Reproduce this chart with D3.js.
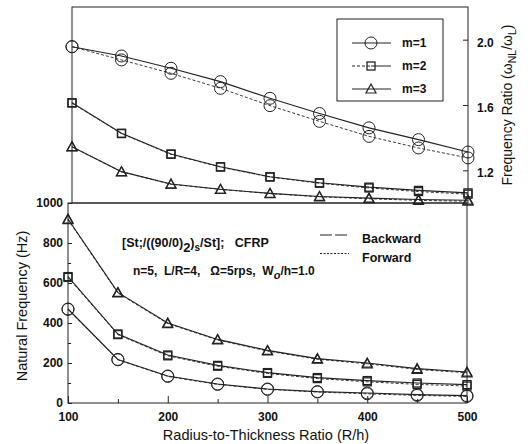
<!DOCTYPE html>
<html><head><meta charset="utf-8">
<script src="https://cdn.jsdelivr.net/npm/d3@7"></script>
<style>
body{margin:0;background:#fff;}
svg{display:block;font-family:"Liberation Sans",Arial,sans-serif;}
text{fill:#111;}
</style></head>
<body><svg id="c" width="528" height="444"></svg>
<script>
// ---- data ----
const ratioRh = [100,150,200,250,300,350,400,450,500];
const xTickLabels = [100,200,300,400,500];
const xMinorTicks = [150,250,350,450];
const hzTicks = [0,200,400,600,800,1000];
const hzMinorTicks = [100,300,500,700,900];
const ratioTicks = [1.2,1.6,2.0];

// frequency ratio (top panel)
const ratioM1Backward = [1.957,1.900,1.825,1.743,1.641,1.548,1.460,1.388,1.312];
const ratioM1Forward  = [1.957,1.876,1.794,1.702,1.596,1.500,1.408,1.337,1.276];
const ratioM2Backward = [1.614,1.427,1.300,1.222,1.161,1.124,1.097,1.077,1.062];
const ratioM2Forward  = [1.612,1.425,1.298,1.220,1.159,1.121,1.092,1.070,1.054];
const ratioM3Backward = [1.345,1.192,1.116,1.084,1.059,1.040,1.030,1.021,1.017];
const ratioM3Forward  = [1.344,1.191,1.115,1.083,1.058,1.038,1.026,1.016,1.011];

// natural frequency, Hz (bottom panel)
const hzM1Backward = [470,218,135,95,70,57,50,42,37];
const hzM1Forward  = [468,216,133,93,68,55,46,38,33];
const hzM2Backward = [632,345,240,188,152,127,112,100,92];
const hzM2Forward  = [628,342,236,184,148,122,106,93,85];
const hzM3Backward = [920,553,400,318,263,222,200,172,155];
const hzM3Forward  = [917,550,397,315,260,219,196,168,151];

const modes = ["m=1","m=2","m=3"];
const directions = ["Backward","Forward"];

// ---- drawing ----
const svg = d3.select("#c");
const xTop = d3.scaleLinear().domain([100,500]).range([72,468]);
const xBot = d3.scaleLinear().domain([100,500]).range([68,467]);
const yTop = d3.scaleLinear().domain([1.0,2.2]).range([203,7]);
const yBot = d3.scaleLinear().domain([0,1000]).range([403,203]);

function frame(x, y, x0, x1, y0, y1){
  svg.append("rect").attr("x",x(x0)).attr("y",y(y1))
    .attr("width",x(x1)-x(x0)).attr("height",y(y0)-y(y1))
    .attr("fill","none").attr("stroke","#222").attr("stroke-width",1);
}
frame(xTop,yTop,100,500,1.0,2.2);
frame(xBot,yBot,100,500,0,1000);

function styleAxis(g){
  g.select(".domain").remove();
  g.selectAll("line").attr("stroke","#222").attr("stroke-width",1);
  g.selectAll("text").attr("font-family","Liberation Sans, Arial, sans-serif")
   .attr("font-size",12).attr("font-weight","bold").attr("fill","#111");
}
// bottom x axis
svg.append("g").attr("transform",`translate(0,${yBot(0)})`)
  .call(d3.axisBottom(xBot).tickValues(xTickLabels).tickFormat(d3.format("d")).tickSizeInner(-7).tickSizeOuter(0).tickPadding(9))
  .call(styleAxis);
svg.append("g").attr("transform",`translate(0,${yBot(0)})`)
  .call(d3.axisBottom(xBot).tickValues(xMinorTicks).tickSizeInner(-4).tickSizeOuter(0).tickFormat(""))
  .call(styleAxis);
// left y axis bottom panel
svg.append("g").attr("transform",`translate(${xBot(100)},0)`)
  .call(d3.axisLeft(yBot).tickValues(hzTicks).tickFormat(d3.format("d")).tickSizeInner(-4).tickSizeOuter(0).tickPadding(5))
  .call(g=>{styleAxis(g); g.selectAll("text").attr("dy","0.28em");});
svg.append("g").attr("transform",`translate(${xBot(100)},0)`)
  .call(d3.axisLeft(yBot).tickValues(hzMinorTicks).tickSizeInner(-3).tickSizeOuter(0).tickFormat(""))
  .call(styleAxis);
// right axis top panel
svg.append("g").attr("transform",`translate(${xTop(500)},0)`)
  .call(d3.axisRight(yTop).tickValues(ratioTicks).tickFormat(d3.format(".1f")).tickSizeInner(-5).tickSizeOuter(0).tickPadding(9))
  .call(g=>{styleAxis(g); g.selectAll("text").attr("dy","0.55em");});

// markers
function marker(g, type, cx, cy){
  if(type===0){
    g.append("circle").attr("cx",cx).attr("cy",cy).attr("r",6)
     .attr("fill","none").attr("stroke","#222").attr("stroke-width",1);
  } else if(type===1){
    g.append("rect").attr("x",cx-4).attr("y",cy-4).attr("width",8).attr("height",8)
     .attr("fill","none").attr("stroke","#222").attr("stroke-width",1.3);
  } else {
    g.append("path").attr("d",`M${cx},${cy-5}L${cx+5},${cy+4}L${cx-5},${cy+4}Z`)
     .attr("fill","none").attr("stroke","#222").attr("stroke-width",1.2);
  }
}
function series(x, y, vals, type, dashed){
  const line = d3.line().x((d,i)=>x(ratioRh[i])).y(d=>y(d));
  svg.append("path").datum(vals).attr("d",line).attr("fill","none")
    .attr("stroke","#222").attr("stroke-width",dashed?0.9:1.1)
    .attr("stroke-dasharray",dashed?"3,2":null);
  const g = svg.append("g");
  vals.forEach((v,i)=>marker(g,type,x(ratioRh[i]),y(v)));
}
const topSets = [[ratioM1Backward,ratioM1Forward],[ratioM2Backward,ratioM2Forward],[ratioM3Backward,ratioM3Forward]];
const botSets = [[hzM1Backward,hzM1Forward],[hzM2Backward,hzM2Forward],[hzM3Backward,hzM3Forward]];
topSets.forEach((s,k)=>{ series(xTop,yTop,s[0],k,false); series(xTop,yTop,s[1],k,true); });
botSets.forEach((s,k)=>{ series(xBot,yBot,s[0],k,false); series(xBot,yBot,s[1],k,true); });

// top legend
svg.append("rect").attr("x",337).attr("y",19).attr("width",106).attr("height",82)
  .attr("fill","#fff").attr("stroke","#222").attr("stroke-width",1);
modes.forEach((m,k)=>{
  const ly = 43 + k*23;
  if(k===1){
    svg.append("line").attr("x1",352).attr("x2",371).attr("y1",ly).attr("y2",ly)
      .attr("stroke","#222").attr("stroke-width",1).attr("stroke-dasharray","3,2");
    svg.append("line").attr("x1",371).attr("x2",391).attr("y1",ly).attr("y2",ly)
      .attr("stroke","#222").attr("stroke-width",1);
  } else {
    svg.append("line").attr("x1",352).attr("x2",391).attr("y1",ly).attr("y2",ly)
      .attr("stroke","#222").attr("stroke-width",1);
  }
  marker(svg,k,371,ly);
  svg.append("text").attr("x",402).attr("y",ly+4).attr("font-size",12).attr("font-weight","bold").text(m);
});

// bottom legend
directions.forEach((d,k)=>{
  const ly = 235 + k*18.5;
  svg.append("line").attr("x1",320).attr("x2",349).attr("y1",ly).attr("y2",ly)
    .attr("stroke","#222").attr("stroke-width",1).attr("stroke-dasharray",k===1?"2,1.5":"12,3");
  svg.append("text").attr("x",362).attr("y",ly+8).attr("font-size",12.5).attr("font-weight","bold").text(d);
});

// annotations
const t1 = svg.append("text").attr("x",122).attr("y",247).attr("font-size",12.5).attr("font-weight","bold").attr("xml:space","preserve");
t1.append("tspan").text("[St;/((90/0)");
t1.append("tspan").attr("dy",5).attr("font-size",13).text("2");
t1.append("tspan").attr("dy",-5).text(")");
t1.append("tspan").attr("dy",4).attr("font-size",10).text("s");
t1.append("tspan").attr("dy",-4).text("/St];   CFRP");

const t2 = svg.append("text").attr("x",133).attr("y",275).attr("font-size",12).attr("font-weight","bold").attr("xml:space","preserve");
t2.append("tspan").text("n=5,  L/R=4,   \u03A9=5rps,  W");
t2.append("tspan").attr("dy",4).attr("font-size",11).attr("font-style","italic").text("o");
t2.append("tspan").attr("dy",-4).text("/h=1.0");

// axis titles
svg.append("text").attr("x",266).attr("y",440).attr("text-anchor","middle")
  .attr("font-size",14.5).text("Radius-to-Thickness Ratio (R/h)");
svg.append("text").attr("transform","translate(27,306) rotate(-90)").attr("text-anchor","middle")
  .attr("font-size",14.5).text("Natural Frequency (Hz)");
const rt = svg.append("text").attr("transform","translate(512,105) rotate(-90)").attr("text-anchor","middle")
  .attr("font-size",14);
rt.append("tspan").text("Frequency Ratio (\u03C9");
rt.append("tspan").attr("dy",4).attr("font-size",10.5).text("NL");
rt.append("tspan").attr("dy",-4).text("/\u03C9");
rt.append("tspan").attr("dy",4).attr("font-size",10.5).text("L");
rt.append("tspan").attr("dy",-4).text(")");
</script></body></html>
